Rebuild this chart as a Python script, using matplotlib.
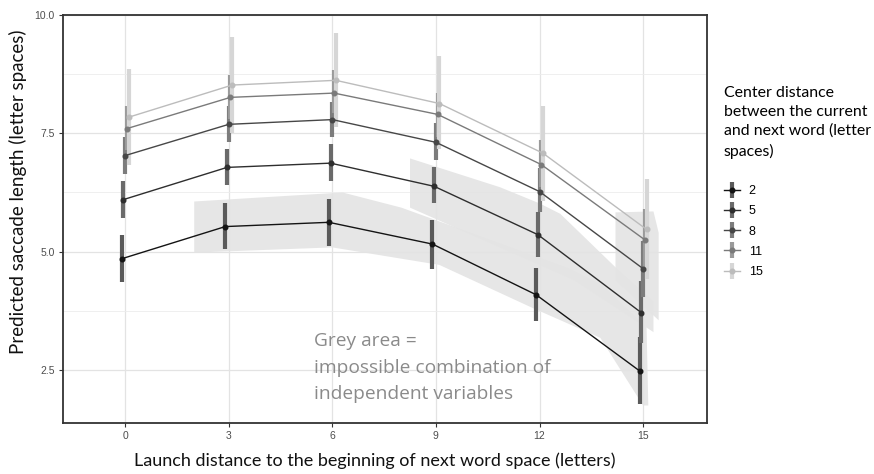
import matplotlib
matplotlib.use("Agg")
import matplotlib.pyplot as plt
from matplotlib.lines import Line2D
from matplotlib.patches import Polygon

# Launch distance (x) and predicted saccade length per centre distance
launch = [0, 3, 6, 9, 12, 15]
center_levels = ["2", "5", "8", "11", "15"]

fit_2 = [4.85, 5.53, 5.62, 5.16, 4.09, 2.48]
lo_2 = [4.36, 5.06, 5.13, 4.64, 3.54, 1.78]
hi_2 = [5.36, 6.02, 6.12, 5.66, 4.66, 3.20]

fit_5 = [6.10, 6.78, 6.87, 6.38, 5.36, 3.71]
lo_5 = [5.72, 6.40, 6.50, 6.02, 4.89, 3.07]
hi_5 = [6.50, 7.16, 7.27, 6.78, 5.83, 4.39]

fit_8 = [7.03, 7.69, 7.79, 7.31, 6.27, 4.64]
lo_8 = [6.65, 7.31, 7.42, 6.93, 5.83, 4.05]
hi_8 = [7.42, 8.07, 8.16, 7.71, 6.76, 5.23]

fit_11 = [7.60, 8.26, 8.35, 7.90, 6.84, 5.25]
lo_11 = [7.15, 7.80, 7.92, 7.42, 6.36, 4.60]
hi_11 = [8.07, 8.73, 8.83, 8.35, 7.35, 5.90]

fit_15 = [7.84, 8.52, 8.62, 8.13, 7.08, 5.47]
lo_15 = [6.84, 7.50, 7.63, 7.16, 6.08, 4.43]
hi_15 = [8.86, 9.53, 9.62, 9.13, 8.07, 6.53]

# Regions of impossible launch-distance / centre-distance combinations
lower_band_x = [2.0, 6.3, 8.0, 12.8, 13.8, 15.1, 15.15, 15.0, 13.76, 11.8, 9.1, 6.0, 2.0]
lower_band_y = [6.06, 6.25, 5.93, 4.66, 4.30, 3.40, 1.75, 1.75, 3.18, 3.81, 4.72, 5.09, 4.98]

upper_band_x = [8.25, 10.86, 12.0, 12.6, 14.3, 15.3, 15.3, 13.0, 8.25]
upper_band_y = [6.97, 6.36, 6.02, 5.80, 4.60, 3.95, 3.30, 4.40, 5.93]

right_block_x = [14.2, 15.3, 15.45, 15.45, 14.2]
right_block_y = [5.83, 5.85, 5.40, 3.55, 4.40]

fits = [fit_2, fit_5, fit_8, fit_11, fit_15]
lows = [lo_2, lo_5, lo_8, lo_11, lo_15]
highs = [hi_2, hi_5, hi_8, hi_11, hi_15]

line_colors = ["#141414", "#2e2e2e", "#474747", "#7a7a7a", "#bcbcbc"]
bar_colors = ["#5a5a5a", "#6a6a6a", "#7c7c7c", "#9a9a9a", "#d6d6d6"]
dodge = [-0.1, -0.05, 0.0, 0.05, 0.1]

label_font = ["Lato", "DejaVu Sans"]
note_font = ["Open Sans", "DejaVu Sans"]
tick_font = ["Liberation Sans", "DejaVu Sans"]

fig = plt.figure(figsize=(8.74, 4.74), dpi=100)
ax = fig.add_axes([63 / 874, 1 - 423 / 474, (707 - 63) / 874, (423 - 15) / 474])

ax.set_xlim(-1.8, 16.85)
ax.set_ylim(1.38, 10.0)

# grid
ax.set_xticks(launch)
ax.set_yticks([2.5, 5.0, 7.5, 10.0])
ax.set_yticks([3.75, 6.25, 8.75], minor=True)
ax.grid(True, which="major", color="#e3e3e3", linewidth=0.9, zorder=0)
ax.grid(True, which="minor", axis="y", color="#ececec", linewidth=0.6, zorder=0)
ax.set_axisbelow(True)

for px, py in [(lower_band_x, lower_band_y), (upper_band_x, upper_band_y),
               (right_block_x, right_block_y)]:
    ax.add_patch(Polygon(list(zip(px, py)), closed=True, facecolor="#e4e4e4",
                         edgecolor="none", alpha=0.92, zorder=1))

for i in range(len(center_levels)):
    xs = [x + dodge[i] for x in launch]
    ax.vlines(xs, lows[i], highs[i], colors=bar_colors[i], linewidth=3.0,
              zorder=2 + i * 0.1)
for i in range(len(center_levels)):
    xs = [x + dodge[i] for x in launch]
    ax.plot(xs, fits[i], color=line_colors[i], linewidth=1.0, marker="o",
            markersize=3.3, zorder=3 + i * 0.1)

ax.text(5.47, 3.30, "Grey area =\nimpossible combination of\nindependent variables",
        fontsize=13.8, color="#8a8a8a", family=note_font, va="top", ha="left",
        linespacing=1.62, zorder=4)

for s in ax.spines.values():
    s.set_color("#333333")
    s.set_linewidth(1.3)
ax.tick_params(axis="both", which="major", length=3, width=0.8, color="#333333",
               labelsize=7.5, labelcolor="#4d4d4d", pad=3)
ax.tick_params(axis="both", which="minor", length=0)
ax.set_xticklabels([str(v) for v in launch], family=tick_font)
ax.set_yticklabels(["2.5", "5.0", "7.5", "10.0"], family=tick_font)

ax.set_xlabel("Launch distance to the beginning of next word space (letters)",
              fontsize=13, family=label_font, color="#111111")
ax.set_ylabel("Predicted saccade length (letter spaces)",
              fontsize=13.5, family=label_font, color="#111111")
ax.xaxis.set_label_coords(0.4845, -0.071)
ax.yaxis.set_label_coords(-0.056, 0.566)

handles = []
for i in range(len(center_levels)):
    bar = Line2D([], [], color=bar_colors[i], marker="|", markersize=12,
                 markeredgewidth=3.0, linestyle="none")
    ln = Line2D([], [], color=line_colors[i], linewidth=1.0, marker="o",
                markersize=3.3)
    handles.append((bar, ln))

leg = fig.legend(handles, center_levels,
                 title="Center distance\nbetween the current\nand next word (letter\nspaces)",
                 loc="upper left", bbox_to_anchor=(720 / 874, 1 - 82 / 474),
                 frameon=False, handlelength=1.3, handletextpad=0.7,
                 labelspacing=0.66, prop={"family": tick_font, "size": 9},
                 borderaxespad=0, borderpad=0.3)
leg.get_title().set_fontfamily(label_font)
leg.get_title().set_fontsize(11.4)
leg.get_title().set_linespacing(1.45)
leg._legend_box.align = "left"
leg._legend_box.sep = 19

fig.savefig("out.png", dpi=100)
